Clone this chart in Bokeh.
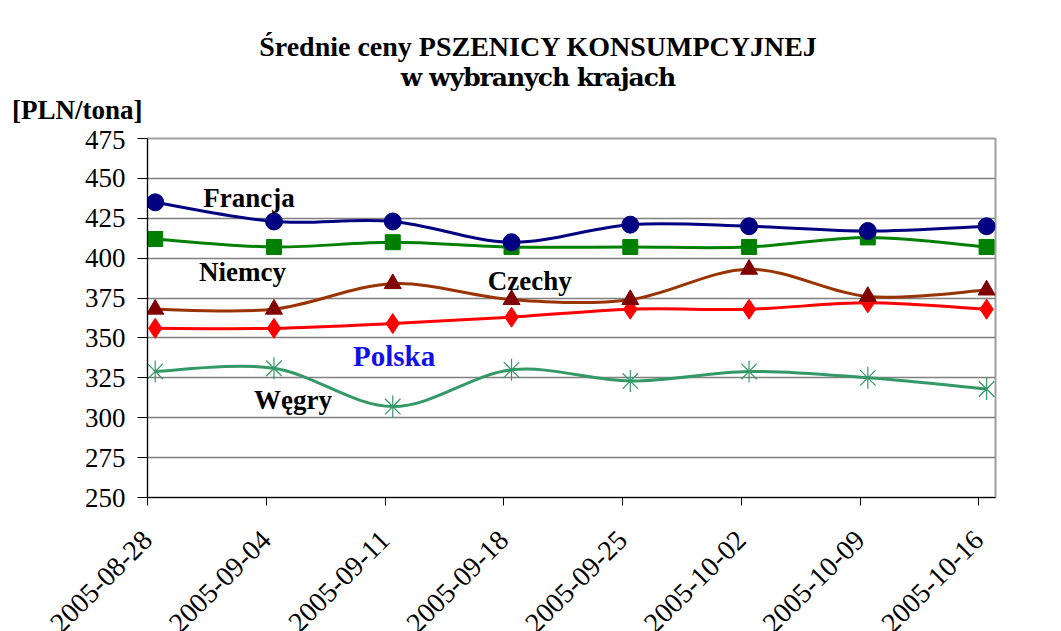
from bokeh.plotting import figure
from bokeh.models import Label, FixedTicker, Div
from bokeh.layouts import column
from bokeh.embed import file_html
from bokeh.resources import INLINE
import math

dates = ["2005-08-28", "2005-09-04", "2005-09-11", "2005-09-18",
         "2005-09-25", "2005-10-02", "2005-10-09", "2005-10-16"]
francja = [435, 423, 423, 410, 421, 420, 417, 420]
niemcy = [412, 407, 410, 407, 407, 407, 413, 407]
czechy = [368, 368, 384, 374, 374, 393, 376, 380]
polska = [356, 356, 359, 363, 368, 368, 372, 368]
wegry = [329, 331, 307, 330, 323, 329, 325, 318]

title1 = "Średnie ceny PSZENICY KONSUMPCYJNEJ"
title2 = "w wybranych krajach"
unit = "[PLN/tona]"

FONT = "Liberation Serif"
OFFSET = 0.065      # data sit half a day after the week ticks
XMAX = 7.14

header = Div(
    width=1061, height=130, margin=0,
    text=(
        '<div style="position:relative;width:1061px;height:130px;color:#000;">'
        '<div style="position:absolute;left:0;width:1076px;top:33px;text-align:center;'
        "font-family:'Times New Roman','Liberation Serif',serif;font-weight:700;"
        f'font-size:28px;line-height:28px;white-space:nowrap">{title1}</div>'
        '<div style="position:absolute;left:0;width:1076px;top:64px;text-align:center;'
        "font-family:'DejaVu Serif',serif;font-weight:700;letter-spacing:-1px;"
        f'font-size:25px;line-height:28px;white-space:nowrap">{title2}</div>'
        '<div style="position:absolute;left:12px;top:97px;'
        "font:bold 27px/27px 'Liberation Serif',serif;"
        f'white-space:nowrap">{unit}</div>'
        '</div>'
    ),
)

p = figure(frame_width=848, frame_height=359, output_backend="svg", toolbar_location=None,
           title=None, margin=0,
           x_range=(0, XMAX), y_range=(250, 475),
           min_border_left=147, min_border_right=66,
           min_border_top=8, min_border_bottom=100)
p.background_fill_color = "white"
p.border_fill_color = "white"
p.outline_line_color = "#a0a0a0"
p.outline_line_width = 2

p.xgrid.visible = False
p.ygrid.grid_line_color = "#808080"
p.ygrid.grid_line_width = 1.5

p.yaxis.ticker = FixedTicker(ticks=list(range(250, 476, 25)))
p.yaxis.major_label_text_font = FONT
p.yaxis.major_label_text_font_size = "27px"
p.yaxis.major_label_text_color = "black"
p.yaxis.major_tick_out = 10
p.yaxis.major_tick_in = 0
p.yaxis.minor_tick_out = 0
p.yaxis.minor_tick_in = 0
p.yaxis.axis_line_color = "black"
p.yaxis.major_label_standoff = 12

p.xaxis.ticker = FixedTicker(ticks=list(range(len(dates))))
p.xaxis.major_label_overrides = {i: d for i, d in enumerate(dates)}
p.xaxis.major_label_orientation = math.pi / 4
p.xaxis.major_label_text_font = FONT
p.xaxis.major_label_text_font_size = "28px"
p.xaxis.major_label_text_color = "black"
p.xaxis.major_label_standoff = 30
p.xaxis.major_tick_out = 8
p.xaxis.major_tick_in = 0
p.xaxis.minor_tick_out = 0
p.xaxis.minor_tick_in = 0
p.xaxis.axis_line_color = "black"

xs = [i + OFFSET for i in range(len(dates))]


def smooth(vals, color, width=3):
    n = len(vals)
    pts = list(zip(xs, vals))
    x0, y0, x1, y1, cx0, cy0, cx1, cy1 = ([] for _ in range(8))
    for i in range(n - 1):
        P0 = pts[max(i - 1, 0)]
        P1 = pts[i]
        P2 = pts[i + 1]
        P3 = pts[min(i + 2, n - 1)]
        x0.append(P1[0]); y0.append(P1[1])
        x1.append(P2[0]); y1.append(P2[1])
        cx0.append(P1[0] + (P2[0] - P0[0]) / 6); cy0.append(P1[1] + (P2[1] - P0[1]) / 6)
        cx1.append(P2[0] - (P3[0] - P1[0]) / 6); cy1.append(P2[1] - (P3[1] - P1[1]) / 6)
    p.bezier(x0=x0, y0=y0, x1=x1, y1=y1, cx0=cx0, cy0=cy0, cx1=cx1, cy1=cy1,
             line_color=color, line_width=width)


# Węgry
smooth(wegry, "#339966")
p.scatter(xs, wegry, marker="x", size=22, line_color="#339966", line_width=1.2)
p.scatter(xs, wegry, marker="dash", angle=math.pi / 2, size=22, line_color="#339966", line_width=1.2)
# Polska
smooth(polska, "#ff0000")
p.scatter(xs, polska, marker="diamond", size=20, fill_color="#ff0000", line_color="#ff0000")
# Czechy
smooth(czechy, "#993300")
p.scatter(xs, czechy, marker="triangle", size=17, fill_color="#800000", line_color="#800000")
# Niemcy
smooth(niemcy, "#008000")
p.scatter(xs, niemcy, marker="square", size=15, fill_color="#008000", line_color="#008000")
# Francja
smooth(francja, "#000080")
p.scatter(xs, francja, marker="circle", size=17, fill_color="#000080", line_color="#000080")

lab = dict(text_font=FONT, text_font_style="bold", text_baseline="alphabetic")
p.add_layout(Label(x=0.47, y=437.5, text="Francja", text_color="black",
                   text_font_size="27px", **lab))
p.add_layout(Label(x=0.434, y=391.6, text="Niemcy", text_color="black",
                   text_font_size="27px", **lab))
p.add_layout(Label(x=2.865, y=385.4, text="Czechy", text_color="black",
                   text_font_size="27px", **lab))
p.add_layout(Label(x=1.73, y=338.5, text="Polska", text_color="#1010e8",
                   text_font_size="29px", **lab))
p.add_layout(Label(x=0.897, y=311.3, text="Węgry", text_color="black",
                   text_font_size="27px", **lab))

layout = column(header, p, margin=0, spacing=0)
open("out.html", "w").write(file_html(layout, INLINE))
